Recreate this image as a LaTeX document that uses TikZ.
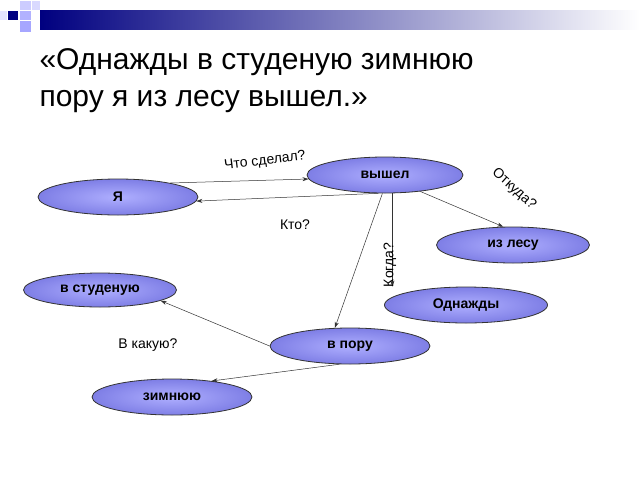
\documentclass[tikz,border=0pt]{standalone}
\usepackage{fontspec}
\setmainfont{Liberation Sans}
\usetikzlibrary{shapes.geometric,arrows.meta}
\begin{document}
\begin{tikzpicture}[x=1pt,y=-1pt,
  el/.style={ellipse,draw=black!80,line width=0.8pt,inner color=white!10!blue!35,outer color=blue!45!white!90!black,minimum height=36pt,font=\bfseries\fontsize{14}{16}\selectfont},
  ar/.style={-{Stealth[length=6pt,width=4pt]},line width=0.5pt,black!80},
  lb/.style={font=\fontsize{14}{16}\selectfont}]
\useasboundingbox (0,0) rectangle (640,480);
\fill[white] (0,0) rectangle (640,480);
\shade[left color=blue!50!black,right color=white] (40,10) rectangle (640,29);
\fill[blue!50!black] (8,11) rectangle (18,20);
\fill[blue!20] (20,1) rectangle (31,10);
\fill[blue!30] (20,11) rectangle (31,20);
\fill[blue!35] (20,21) rectangle (31,32);
\fill[blue!15] (32,1) rectangle (40,10);
\fill[blue!10] (0,11) rectangle (7,20);
\node[anchor=west,font=\fontsize{30}{36}\selectfont] (t1) at (36,62) {«Однажды в студеную зимнюю};
\node[anchor=west,font=\fontsize{30}{36}\selectfont] (t2) at (36,102) {пору я из лесу вышел.»};
\node[el,minimum width=156pt] (v) at (385,175) {вышел};
\node[el,minimum width=160pt] (ya) at (118,197) {Я};
\node[el,minimum width=153pt] (les) at (513,245) {из лесу};
\node[el,minimum width=153pt,minimum height=34pt] (stu) at (100,290) {в студеную};
\node[el,minimum width=163pt] (odn) at (466,305) {Однажды};
\node[el,minimum width=160pt] (por) at (350,346) {в пору};
\node[el,minimum width=160pt] (zim) at (172,397) {зимнюю};
\draw[ar] (ya.15) -- (v.183);
\draw[ar] (v.-110) -- (ya.-3);
\draw[ar] (v.-25) -- (les.118);
\draw[ar] (v.-68) -- (v.-68 |- odn.north);
\draw[ar] (v.-98) -- (por.130);
\draw[ar] (por.180) -- (stu.-10);
\draw[ar] (por.-120) -- (zim.22);
\node[lb,rotate=7] (q1) at (265,161) {Что сделал?};
\node[lb] (q2) at (295,225) {Кто?};
\node[lb,rotate=-42] (q3) at (514,189) {Откуда?};
\node[lb,rotate=90] (q4) at (390,265) {Когда?};
\node[lb] (q5) at (148,345) {В какую?};
\end{tikzpicture}
\end{document}
